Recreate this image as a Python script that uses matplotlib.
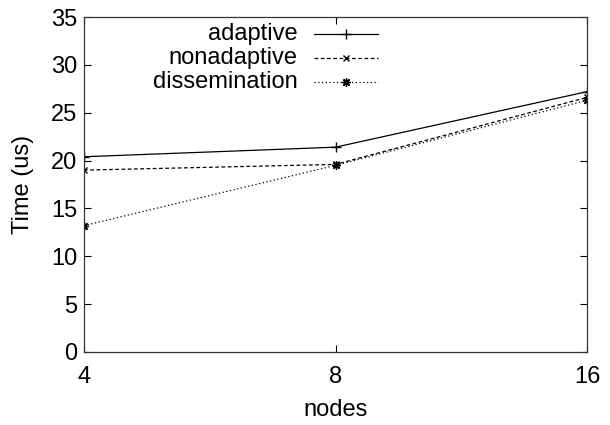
import numpy as np
import matplotlib
matplotlib.use("Agg")
import matplotlib.pyplot as plt

nodes = [4, 8, 16]
adaptive = [20.4, 21.4, 27.2]
nonadaptive = [19.0, 19.6, 26.6]
dissemination = [13.2, 19.5, 26.3]

plt.rcParams["font.family"] = ["Liberation Sans", "DejaVu Sans"]
plt.rcParams["font.size"] = 17

fig = plt.figure(figsize=(6.1, 4.25), dpi=100)
ax = fig.add_axes([84 / 610, 1 - 352 / 425, (587 - 84) / 610, (352 - 17) / 425])

series = [
    ("adaptive", adaptive, "-", "+", 7),
    ("nonadaptive", nonadaptive, (0, (3, 2)), "x", 5),
    ("dissemination", dissemination, (0, (1, 2)), (8, 2, 0), 6),
]

for name, vals, ls, mk, ms in series:
    ax.plot(nodes, vals, color="black", lw=0.9, ls=ls, marker=mk, ms=ms, mew=1.0)

ax.set_xscale("log", base=2)
ax.set_xlim(4, 16)
ax.set_xticks(nodes)
ax.set_xticklabels([str(n) for n in nodes])
ax.minorticks_off()
ax.set_ylim(0, 35)
ax.set_yticks(np.arange(0, 36, 5))

ax.tick_params(direction="in", top=True, right=True, length=5, width=0.8)
ax.tick_params(axis="x", pad=10)
ax.tick_params(axis="y", pad=5)
ax.set_xlabel("nodes", labelpad=8)
ax.set_ylabel("Time (us)", labelpad=12)
for s in ax.spines.values():
    s.set_linewidth(0.9)
    s.set_color("#333333")

# gnuplot-style key: right-aligned labels, samples to the right
row_y = [0.948, 0.877, 0.805]
for (name, vals, ls, mk, ms), y in zip(series, row_y):
    ax.text(0.425, y, name, transform=ax.transAxes, ha="right", va="center")
    ax.plot([0.457, 0.5845], [y, y], transform=ax.transAxes, color="black", lw=0.9, ls=ls, clip_on=False)
    ax.plot([0.521], [y], transform=ax.transAxes, color="black", marker=mk, ms=ms, mew=1.0, clip_on=False)

fig.savefig("out.png", dpi=100)
